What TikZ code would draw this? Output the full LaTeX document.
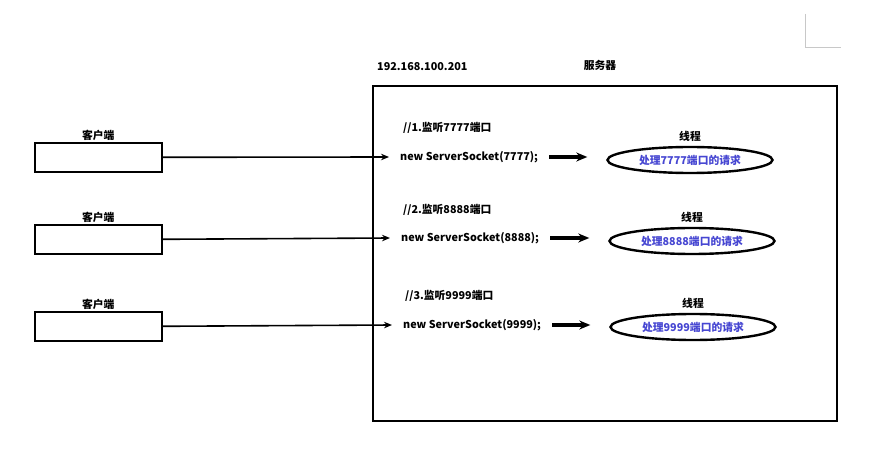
\documentclass[tikz,border=0pt]{standalone}
\usepackage{fontspec}
\setmainfont{Noto Sans CJK SC}
\usepackage{xcolor}
\usepackage{tikz}
\usetikzlibrary{calc,arrows.meta,shapes.geometric}
\definecolor{bg}{HTML}{FFFFFF}
\definecolor{ink}{HTML}{000000}
\definecolor{req}{HTML}{4646D2}
\definecolor{crop}{HTML}{C8C8C8}
\tikzset{
  lab/.style={text=ink, font=\bfseries\fontsize{10.8}{13}\selectfont, inner sep=1pt},
  client/.style={draw=ink, line width=1.6pt, minimum width=127pt, minimum height=29pt, inner sep=0pt},
  server/.style={draw=ink, line width=2.6pt},
  code/.style={lab, inner xsep=11pt, inner ysep=1pt},
  thread/.style={ellipse, draw=ink, line width=2.4pt, minimum width=165pt, minimum height=26pt,
    inner sep=0pt, text=req, font=\bfseries\fontsize{10.8}{13}\selectfont},
  link/.style={draw=ink, line width=1.6pt, -{Stealth[length=8pt,width=6.5pt]}},
  hand/.style={draw=ink, line width=3.2pt, -{Stealth[length=11pt,width=9pt]}, shorten >=19pt},
  corner/.style={draw=crop, line width=1pt}
}

\begin{document}
\begin{tikzpicture}[x=1pt,y=-1pt]
  \useasboundingbox[fill=bg] (0,0) rectangle (881,449);
  \draw[corner] (805,14) -- (805,48) -- (841,48);

  \node[lab,anchor=west] (ip) at (376,67) {192.168.100.201};
  \node[lab] (srvlab) at (600,65) {服务器};
  \draw[server] (373,86) rectangle (837,421);

  % 7777
  \node[client,anchor=north west,label={[lab]above:客户端}] (c1) at (34,142) {};
  \node[lab,anchor=west] (k1) at (402,128) {//1.监听7777端口};
  \node[code,anchor=west] (s1) at (389,157) {new ServerSocket(7777);};
  \node[thread,label={[lab,label distance=3pt]above:线程}] (t1) at (690,160) {处理7777端口的请求};
  \draw[link] (c1.east) -- (s1.west);
  \draw[hand] (s1.east) -- (s1.east -| t1.west);

  % 8888
  \node[client,anchor=north west,label={[lab]above:客户端}] (c2) at (34,224) {};
  \node[lab,anchor=west] (k2) at (402,210) {//2.监听8888端口};
  \node[code,anchor=west] (s2) at (390,238) {new ServerSocket(8888);};
  \node[thread,label={[lab,label distance=3pt]above:线程}] (t2) at (692,241) {处理8888端口的请求};
  \draw[link] (c2.east) -- (s2.west);
  \draw[hand] (s2.east) -- (s2.east -| t2.west);

  % 9999
  \node[client,anchor=north west,label={[lab]above:客户端}] (c3) at (34,311) {};
  \node[lab,anchor=west] (k3) at (404,296) {//3.监听9999端口};
  \node[code,anchor=west] (s3) at (392,325) {new ServerSocket(9999);};
  \node[thread,label={[lab,label distance=3pt]above:线程}] (t3) at (693,327) {处理9999端口的请求};
  \draw[link] (c3.east) -- (s3.west);
  \draw[hand] (s3.east) -- (s3.east -| t3.west);
\end{tikzpicture}
\end{document}
